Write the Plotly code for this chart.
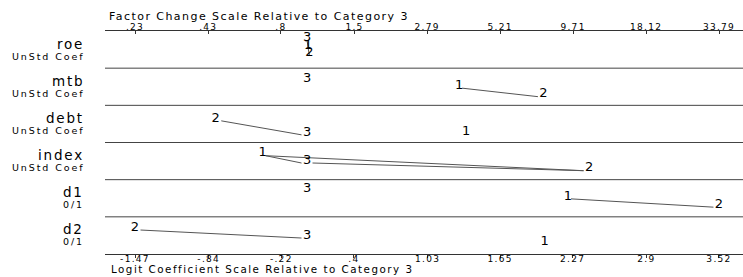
import plotly.graph_objects as go
import numpy as np

# ---------------- data ----------------
variables = ["roe", "mtb", "debt", "index", "d1", "d2"]
var_notes = ["UnStd Coef", "UnStd Coef", "UnStd Coef", "UnStd Coef", "0/1", "0/1"]
categories = ["1", "2", "3"]
# logit coefficients relative to category 3
coef_cat1 = [0.01, 1.30, 1.36, -0.38, 2.23, 2.03]
coef_cat2 = [0.02, 2.02, -0.78, 2.41, 3.52, -1.47]
coef_cat3 = [0.0, 0.0, 0.0, 0.0, 0.0, 0.0]
# pairs of categories joined by a line (not significantly different)
links = [
    [("3", "1"), ("1", "2")],
    [("1", "2")],
    [("2", "3")],
    [("1", "3"), ("1", "2"), ("3", "2")],
    [("1", "2")],
    [("2", "3")],
]
logit_ticks = [-1.47, -0.84, -0.22, 0.4, 1.03, 1.65, 2.27, 2.9, 3.52]
logit_tick_labels = ["-1.47", "-.84", "-.22", ".4", "1.03", "1.65", "2.27", "2.9", "3.52"]
factor_ticks = [0.23, 0.43, 0.8, 1.5, 2.79, 5.21, 9.71, 18.12, 33.79]
factor_tick_labels = [".23", ".43", ".8", "1.5", "2.79", "5.21", "9.71", "18.12", "33.79"]

# ---------------- layout settings ----------------
W, H = 743, 277
ML, MR, MT, MB = 105, 0, 31, 23
PLOT_W = W - ML - MR
PLOT_H = H - MT - MB
NROW = len(variables)
ROW_PX = PLOT_H / NROW
PX_PER_UNIT = 117.03
X_MIN = logit_ticks[0] - 30 / PX_PER_UNIT
X_MAX = X_MIN + PLOT_W / PX_PER_UNIT

# vertical placement of the category digits inside each row (px from row top)
letter_dy = [
    {"3": 6.5, "1": 15.0, "2": 21.5},
    {"3": 11.0, "1": 17.5, "2": 26.0},
    {"2": 13.0, "3": 27.0, "1": 26.5},
    {"1": 10.7, "3": 18.0, "2": 25.7},
    {"3": 9.3, "1": 16.7, "2": 25.0},
    {"2": 10.7, "3": 18.7, "1": 24.7},
]
half_w = {"1": 3.0, "2": 5.5, "3": 5.5}
LINE_DY = 2.5

FONT = "DejaVu Sans"
coefs = {"1": coef_cat1, "2": coef_cat2, "3": coef_cat3}


def spaced(t, sp):
    return f'<span style="letter-spacing:{sp}px">{t}</span>'


fig = go.Figure()

# connecting lines
lx, ly = [], []
for i, pairs in enumerate(links):
    for a, b in pairs:
        xa, xb = coefs[a][i], coefs[b][i]
        if xa > xb:
            a, b = b, a
            xa, xb = xb, xa
        ya = i + (letter_dy[i][a] + LINE_DY) / ROW_PX
        yb = i + (letter_dy[i][b] + LINE_DY) / ROW_PX
        if (xb - xa) * PX_PER_UNIT < 15:
            lx += [xa, xb, None]
        else:
            lx += [xa + half_w[a] / PX_PER_UNIT, xb - half_w[b] / PX_PER_UNIT, None]
        ly += [ya, yb, None]
fig.add_trace(go.Scatter(x=lx, y=ly, mode="lines",
                         line=dict(color="#555555", width=1),
                         hoverinfo="skip", showlegend=False))

# category digits
for c in categories:
    fig.add_trace(go.Scatter(
        x=coefs[c],
        y=[i + letter_dy[i][c] / ROW_PX for i in range(NROW)],
        mode="text", text=[c] * NROW, textposition="middle center",
        textfont=dict(family=FONT, size=13, color="black"),
        showlegend=False, hoverinfo="skip"))

# dummy trace on top axis
fig.add_trace(go.Scatter(x=[X_MIN, X_MAX], y=[0, 0], xaxis="x2", mode="markers",
                         marker=dict(opacity=0), showlegend=False, hoverinfo="skip"))

# row separators
for i in range(1, NROW):
    fig.add_shape(type="line", xref="paper", yref="y", x0=0, x1=1, y0=i, y1=i,
                  line=dict(color="#444444", width=1))

# row labels
LBL_SP, NOTE_SP = 1.8, 1.9
for i, (v, n) in enumerate(zip(variables, var_notes)):
    fig.add_annotation(xref="paper", yref="y", x=0, y=i + 12.5 / ROW_PX,
                       xanchor="right", yanchor="middle", xshift=-21 + LBL_SP,
                       text=spaced(v, LBL_SP), showarrow=False,
                       font=dict(family=FONT, size=13.5, color="black"))
    fig.add_annotation(xref="paper", yref="y", x=0, y=i + 25 / ROW_PX,
                       xanchor="right", yanchor="middle", xshift=-21 + NOTE_SP,
                       text=spaced(n, NOTE_SP), showarrow=False,
                       font=dict(family=FONT, size=9.5, color="black"))

# axis titles
fig.add_annotation(xref="paper", yref="paper", x=2 / PLOT_W, y=1, yshift=15,
                   xanchor="left", yanchor="middle", showarrow=False,
                   text=spaced("Factor Change Scale Relative to Category 3", 1.45),
                   font=dict(family=FONT, size=11, color="black"))
fig.add_annotation(xref="paper", yref="paper", x=4 / PLOT_W, y=0, yshift=-15,
                   xanchor="left", yanchor="middle", showarrow=False,
                   text=spaced("Logit Coefficient Scale Relative to Category 3", 1.5),
                   font=dict(family=FONT, size=10.3, color="black"))

TICK_SP = 1.3
axis_common = dict(range=[X_MIN, X_MAX], showgrid=False, zeroline=False,
                   showline=True, linecolor="#333333", linewidth=1,
                   ticklen=3, tickcolor="#333333",
                   tickfont=dict(family=FONT, size=9, color="black"))

fig.update_layout(
    width=W, height=H,
    margin=dict(l=ML, r=MR, t=MT, b=MB, autoexpand=False),
    plot_bgcolor="white", paper_bgcolor="white",
    xaxis=dict(**axis_common, side="bottom", ticks="outside",
               tickvals=logit_ticks, automargin=False, ticklabelstandoff=-7,
               ticktext=[spaced(t, TICK_SP) for t in logit_tick_labels]),
    xaxis2=dict(**axis_common, side="top", overlaying="x", ticks="inside",
                tickvals=list(np.log(factor_ticks)), automargin=False,
                ticklabelstandoff=-4,
                ticktext=[spaced(t, TICK_SP) for t in factor_tick_labels]),
    yaxis=dict(range=[NROW, 0], showgrid=False, zeroline=False,
               showticklabels=False, ticks="", showline=False, fixedrange=True),
)

fig.write_html("out.html", config={"displayModeBar": False},
               post_script="document.body.style.margin='0px';")
